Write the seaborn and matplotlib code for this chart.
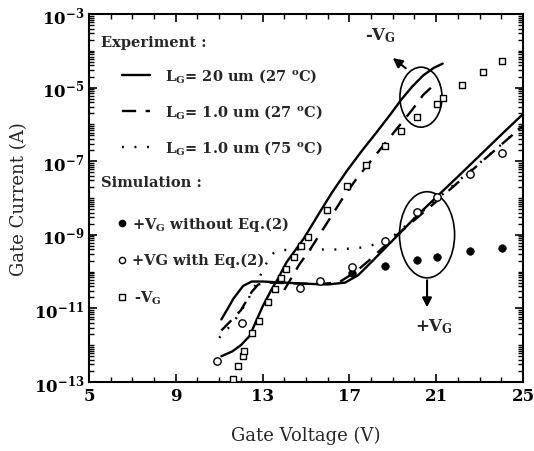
import numpy as np
import seaborn as sns
import matplotlib
matplotlib.use('Agg')
import matplotlib.pyplot as plt
from matplotlib.patches import Ellipse
from matplotlib.ticker import FixedLocator, LogLocator, NullFormatter, FuncFormatter

# values, gate current given as log10(A)
# experiment, -VG branch
neg_20um_v = [11.1, 11.6, 12.0, 12.4, 12.7, 13.0, 13.4, 13.7, 14.1, 14.9, 15.6, 16.2, 16.9, 17.6, 18.3, 18.9, 19.4, 19.9, 20.4, 20.9, 21.3]
neg_20um_logi = [-12.3, -12.17, -12.0, -11.75, -11.35, -10.95, -10.5, -10.2, -9.75, -9.1, -8.42, -7.85, -7.25, -6.7, -6.18, -5.72, -5.32, -4.97, -4.67, -4.46, -4.35]
neg_1um_v = [14.0, 14.3, 14.7, 15.2, 16.0, 16.7, 17.3, 18.5, 19.9, 20.4, 20.8, 21.2]
neg_1um_logi = [-10.5, -10.2, -9.8, -9.39, -8.65, -8.0, -7.5, -6.62, -5.6, -5.2, -4.98, -4.92]
# experiment, +VG branch
pos_20um_v = [11.1, 11.4, 11.65, 12.1, 12.5, 13.0, 14.0, 15.0, 16.0, 16.8, 17.4, 18.0, 19.0, 20.0, 21.0, 22.0, 23.0, 24.0, 25.0]
pos_20um_logi = [-11.3, -11.0, -10.74, -10.39, -10.27, -10.27, -10.3, -10.33, -10.35, -10.3, -10.1, -9.75, -9.15, -8.55, -7.98, -7.42, -6.85, -6.28, -5.72]
pos_1um_v = [11.1, 11.6, 12.0, 12.5, 12.8, 13.3, 14.5, 15.5, 16.5, 17.3, 18.0, 19.0, 20.0, 21.0, 22.0, 22.7, 24.0, 25.0]
pos_1um_logi = [-11.6, -11.3, -11.05, -10.55, -10.35, -10.3, -10.32, -10.34, -10.3, -10.0, -9.65, -9.1, -8.6, -8.1, -7.58, -7.22, -6.55, -6.04]
pos_75c_v = [11.0, 11.4, 11.8, 12.2, 12.6, 12.9, 13.2, 13.5, 13.8, 14.5, 15.5, 16.5, 17.5, 18.3, 19.0, 19.5, 20.0, 21.0, 22.0, 23.0, 24.0, 25.0]
pos_75c_logi = [-11.8, -11.55, -11.25, -10.9, -10.45, -10.1, -9.75, -9.5, -9.42, -9.4, -9.4, -9.4, -9.35, -9.25, -9.05, -8.8, -8.55, -8.05, -7.55, -7.05, -6.55, -6.02]

# simulation
sim_noeq_v = [17.12, 18.64, 20.12, 21.04, 22.56, 24.03]
sim_noeq_logi = [-10.04, -9.85, -9.68, -9.6, -9.45, -9.37]
sim_eq_v = [10.9, 12.05, 14.72, 15.65, 17.12, 18.64, 20.12, 21.04, 22.56, 24.03]
sim_eq_logi = [-12.43, -11.4, -10.45, -10.26, -9.88, -9.17, -8.38, -7.97, -7.35, -6.78]
sim_neg_v = [11.64, 11.87, 12.1, 12.14, 12.5, 12.83, 13.25, 13.57, 13.85, 14.08, 14.45, 14.75, 15.08,
             15.95, 16.87, 17.76, 18.62, 19.38, 20.12, 21.04, 21.3, 22.2, 23.16, 24.03]
sim_neg_logi = [-12.92, -12.57, -12.29, -12.16, -11.67, -11.34, -10.83, -10.48, -10.17, -9.93, -9.6, -9.31, -9.06,
                -8.33, -7.67, -7.1, -6.59, -6.18, -5.8, -5.45, -5.28, -4.93, -4.57, -4.28]

yticks_exp = [-13, -11, -9, -7, -5, -3]
xticks = [5, 9, 13, 17, 21, 25]

sns.set_style('ticks')
plt.rcParams['font.family'] = ['DejaVu Serif']
plt.rcParams['mathtext.fontset'] = 'dejavuserif'

fig = plt.figure(figsize=(5.34, 4.52), dpi=100)
ax = fig.add_axes([0.1667, 0.1527, 0.8126, 0.8141])

def cur(a):
    return 10.0 ** np.array(a)

lw = 1.7
sns.lineplot(x=neg_20um_v, y=cur(neg_20um_logi), ax=ax, color='black', linewidth=lw)
sns.lineplot(x=pos_20um_v, y=cur(pos_20um_logi), ax=ax, color='black', linewidth=lw)
sns.lineplot(x=neg_1um_v, y=cur(neg_1um_logi), ax=ax, color='black', linewidth=lw, linestyle=(0, (6, 4)))
sns.lineplot(x=pos_1um_v, y=cur(pos_1um_logi), ax=ax, color='black', linewidth=lw, linestyle=(0, (6, 4)))
sns.lineplot(x=pos_75c_v, y=cur(pos_75c_logi), ax=ax, color='black', linewidth=lw, linestyle=(0, (0.8, 4.5)))

sns.scatterplot(x=sim_noeq_v, y=cur(sim_noeq_logi), ax=ax, marker='o', color='black', edgecolor='black', s=30, zorder=5)
sns.scatterplot(x=sim_eq_v, y=cur(sim_eq_logi), ax=ax, marker='o', color='white', edgecolor='black', linewidth=1.0, s=28, zorder=5)
sns.scatterplot(x=sim_neg_v, y=cur(sim_neg_logi), ax=ax, marker='s', color='white', edgecolor='black', linewidth=1.0, s=22, zorder=5)

ax.set_yscale('log')
ax.set_xlim(5, 25)
ax.set_ylim(1e-13, 1e-3)
ax.xaxis.set_major_locator(FixedLocator(xticks))
ax.xaxis.set_minor_locator(FixedLocator(np.arange(5, 26, 1)))
ax.yaxis.set_major_locator(FixedLocator([10.0 ** e for e in yticks_exp]))
ax.yaxis.set_minor_locator(LogLocator(base=10, subs=np.arange(1, 10), numticks=100))
ax.yaxis.set_minor_formatter(NullFormatter())
ax.yaxis.set_major_formatter(FuncFormatter(lambda v, p: r'$\mathbf{10^{%d}}$' % round(np.log10(v))))
ax.tick_params(which='both', direction='in', top=True, right=True, colors='black', labelsize=12)
ax.tick_params(which='major', length=6, width=1.2)
ax.tick_params(which='minor', length=3.5, width=1.0)
for lab in ax.get_xticklabels():
    lab.set_fontweight('bold')
for s in ax.spines.values():
    s.set_linewidth(1.5)
    s.set_color('black')

ax.set_xlabel('Gate Voltage (V)', fontsize=13, labelpad=16)
ax.set_ylabel('Gate Current (A)', fontsize=13, labelpad=4)

# legend drawn by hand
T = ax.transAxes
fs = 10.5
ax.text(0.028, 0.924, 'Experiment :', transform=T, fontsize=fs, fontweight='bold', va='center')
ax.plot([0.076, 0.141], [0.834, 0.834], transform=T, color='black', lw=lw)
ax.text(0.175, 0.834, r'L$_\mathbf{G}$= 20 um (27 $^\mathbf{o}$C)', transform=T, fontsize=fs, fontweight='bold', va='center')
ax.plot([0.076, 0.141], [0.736, 0.736], transform=T, color='black', lw=lw, linestyle=(0, (6, 4)))
ax.text(0.175, 0.736, r'L$_\mathbf{G}$= 1.0 um (27 $^\mathbf{o}$C)', transform=T, fontsize=fs, fontweight='bold', va='center')
ax.plot([0.076, 0.141], [0.639, 0.639], transform=T, color='black', lw=lw, linestyle=(0, (0.8, 4.5)))
ax.text(0.175, 0.639, r'L$_\mathbf{G}$= 1.0 um (75 $^\mathbf{o}$C)', transform=T, fontsize=fs, fontweight='bold', va='center')
ax.text(0.028, 0.543, 'Simulation :', transform=T, fontsize=fs, fontweight='bold', va='center')
ax.plot([0.076], [0.432], transform=T, marker='o', color='black', ms=4.5)
ax.text(0.098, 0.432, r'+V$_\mathbf{G}$ without Eq.(2)', transform=T, fontsize=fs, fontweight='bold', va='center')
ax.plot([0.076], [0.332], transform=T, marker='o', mfc='white', mec='black', ms=4.5)
ax.text(0.098, 0.332, '+VG with Eq.(2)', transform=T, fontsize=fs, fontweight='bold', va='center')
ax.plot([0.076], [0.231], transform=T, marker='s', mfc='white', mec='black', ms=4.5)
ax.text(0.103, 0.231, r'-V$_\mathbf{G}$', transform=T, fontsize=fs, fontweight='bold', va='center')

# ellipses and arrows
ax.add_patch(Ellipse((0.765, 0.774), 0.097, 0.163, transform=T, fill=False, lw=1.2, color='black'))
ax.add_patch(Ellipse((0.779, 0.40), 0.127, 0.234, transform=T, fill=False, lw=1.2, color='black'))
ax.annotate('', xy=(0.695, 0.885), xytext=(0.735, 0.848), xycoords=T,
            arrowprops=dict(arrowstyle='-|>', color='black', lw=1.5, mutation_scale=14))
ax.annotate('', xy=(0.779, 0.195), xytext=(0.779, 0.284), xycoords=T,
            arrowprops=dict(arrowstyle='-|>', color='black', lw=1.5, mutation_scale=14))
ax.text(0.672, 0.945, r'-V$_\mathbf{G}$', transform=T, fontsize=12, fontweight='bold', ha='center', va='center')
ax.text(0.795, 0.152, r'+V$_\mathbf{G}$', transform=T, fontsize=12, fontweight='bold', ha='center', va='center')

fig.savefig('out.png', dpi=100)
